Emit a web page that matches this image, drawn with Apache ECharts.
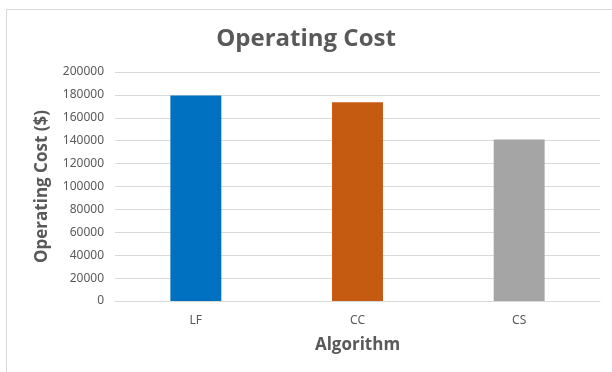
<!DOCTYPE html>
<html>
<head>
<meta charset="utf-8">
<script src="https://cdn.jsdelivr.net/npm/echarts@6/dist/echarts.min.js"></script>
<style>
  html, body { margin: 0; padding: 0; background: #fff; }
  #chart { width: 612px; height: 372px; }
</style>
</head>
<body>
<div id="chart"></div>
<script>
// 数据
var categories = ["LF", "CC", "CS"];
var costValues = [179500, 173500, 141000];
var barColors = ["#0070c0", "#c55a11", "#a5a5a5"];

(function () {
    var myChart = echarts.init(document.getElementById("chart"));
    var textColor = "#595959";
    var option = {
        animation: false,
        // 外框
        graphic: [
            {
                type: "rect",
                shape: { x: 6.5, y: 9.5, width: 640, height: 420 },
                style: { fill: "none", stroke: "#d9d9d9", lineWidth: 1 },
                silent: true,
            },
        ],
        title: {
            text: "Operating Cost",
            left: "center",
            top: 22,
            textStyle: {
                color: textColor,
                fontFamily: "Open Sans",
                fontWeight: "bold",
                fontSize: 24,
            },
        },
        grid: {
            left: 115,
            right: 12,
            top: 72,
            bottom: 71,
            containLabel: false,
        },
        xAxis: {
            type: "category",
            data: categories,
            name: "Algorithm",
            nameLocation: "middle",
            nameGap: 36,
            nameTextStyle: {
                color: textColor,
                fontFamily: "Open Sans",
                fontWeight: "bold",
                fontSize: 17,
            },
            axisTick: { show: false },
            axisLine: { lineStyle: { color: "#d9d9d9", width: 1 } },
            axisLabel: {
                color: textColor,
                fontFamily: "Noto Sans",
                fontSize: 12,
                margin: 14,
            },
        },
        yAxis: {
            type: "value",
            min: 0,
            max: 200000,
            interval: 20000,
            name: "Operating Cost ($)",
            nameLocation: "middle",
            nameGap: 64,
            nameTextStyle: {
                color: textColor,
                fontFamily: "Open Sans",
                fontWeight: "bold",
                fontSize: 17,
            },
            axisLine: { show: false },
            axisTick: { show: false },
            axisLabel: {
                color: textColor,
                fontFamily: "Noto Sans",
                fontSize: 12,
                margin: 11,
                formatter: function (v) {
                    return String(v);
                },
            },
            splitLine: { lineStyle: { color: "#d9d9d9", width: 1 } },
        },
        series: [
            {
                type: "bar",
                data: costValues,
                barWidth: "31.5%",
                itemStyle: {
                    color: function (params) {
                        return barColors[params.dataIndex];
                    },
                },
            },
        ],
    };
    myChart.setOption(option);
})();
</script>
</body>
</html>
